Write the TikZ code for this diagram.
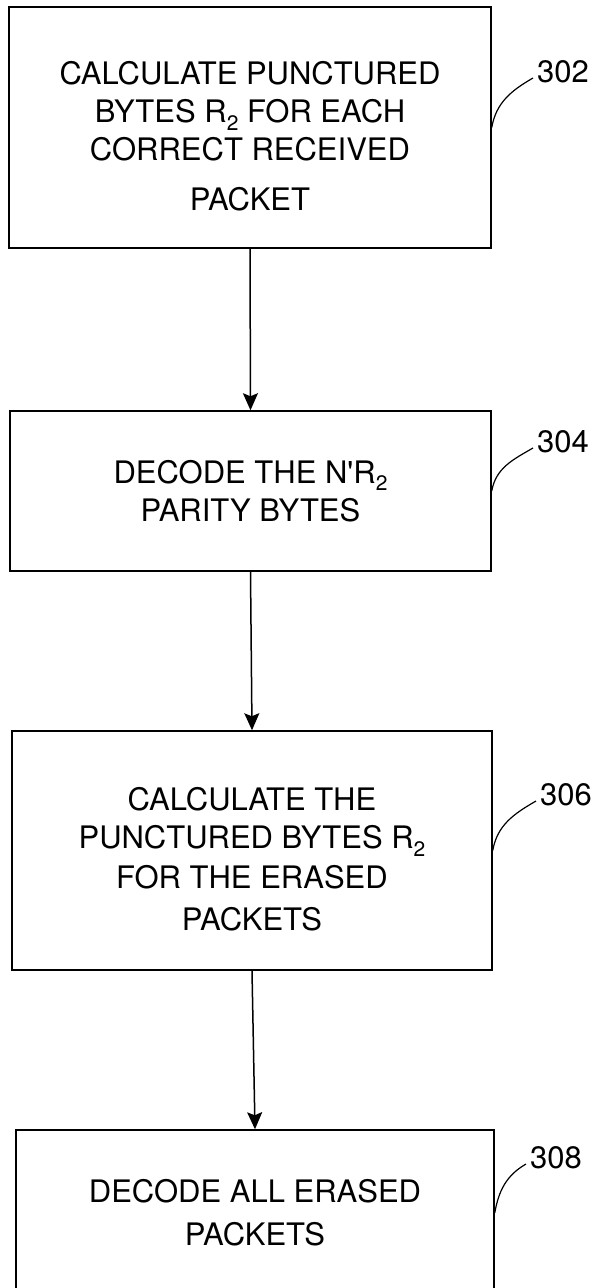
\documentclass[tikz,border=0pt]{standalone}
\usepackage{fontspec}
\setmainfont{TeX Gyre Heros}
\usetikzlibrary{arrows.meta,positioning}
\newcommand{\Rtwo}{R\raisebox{-0.45ex}{\fontsize{21}{21}\selectfont 2}}
\newcommand{\lowstrut}{\rule{0pt}{41pt}}

\begin{document}
\begin{tikzpicture}[x=1pt,y=-1pt,>={Stealth[length=17pt,width=15pt,inset=3pt]},
  stage box/.style={rectangle,draw,line width=1.5pt,align=center,inner sep=0pt,
    font=\fontsize{31}{38}\selectfont},
  ref label/.style={anchor=west,inner sep=0pt,font=\fontsize{31}{31}\selectfont}]

  \useasboundingbox (0,0) rectangle (599,1288);
  \clip (0,0) rectangle (599,1288);

  % Define the four steps by coordinates
  \node[stage box,minimum width=482pt,minimum height=241pt] (b1) at (250,127.5)
    {\lowstrut CALCULATE PUNCTURED\\BYTES \Rtwo{} FOR EACH\\CORRECT RECEIVED\\[12pt]PACKET};
  \node[stage box,minimum width=481pt,minimum height=160pt] (b2) at (250.5,491)
    {DECODE THE N\textquotesingle\Rtwo\\PARITY BYTES};
  \node[stage box,minimum width=480pt,minimum height=239pt] (b3) at (252,850.5)
    {\lowstrut CALCULATE THE\\PUNCTURED BYTES \Rtwo\\[2pt]FOR THE ERASED\\[4pt]PACKETS};
  \node[stage box,minimum width=478pt,minimum height=166pt] (b4) at (255,1213)
    {DECODE ALL ERASED\\[5pt]PACKETS};

  % Reference numerals
  \node[ref label] (l302) at (537,72) {302};
  \node[ref label] (l304) at (537,442) {304};
  \node[ref label] (l306) at (540,795) {306};
  \node[ref label] (l308) at (530,1158) {308};

  % Draw the flow arrows
  \path[line width=1.5pt]
    (b1.south) edge[->] (b2.north)
    (b2.south) edge[->] (b3.north)
    (b3.south) edge[->] (b4.north);

  % Leader lines
  \path[line width=1.2pt]
    (b1.east) edge[out=80,in=210] ([xshift=-4pt,yshift=-6pt]l302.west)
    (b2.east) edge[out=80,in=210] ([xshift=-4pt,yshift=-6pt]l304.west)
    (b3.east) edge[out=80,in=210] ([xshift=-4pt,yshift=-6pt]l306.west)
    (b4.east) edge[out=80,in=210] ([xshift=-4pt,yshift=-6pt]l308.west);
\end{tikzpicture}
\end{document}
